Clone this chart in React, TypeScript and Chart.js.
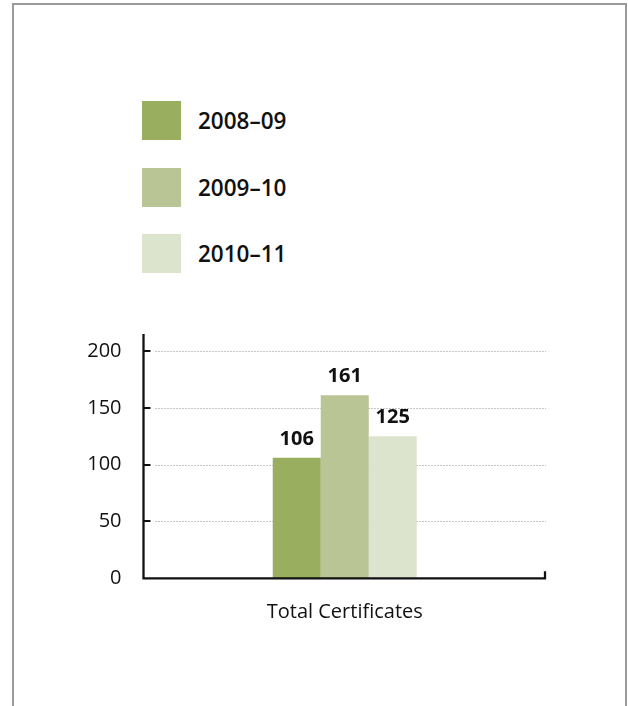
import React, { useEffect, useRef } from "react";
import { Chart, registerables } from "chart.js";

Chart.register(...registerables);

const categories = ["Total Certificates"];
const seriesLabels = ["2008–09", "2009–10", "2010–11"];
const values200809 = [106];
const values200910 = [161];
const values201011 = [125];
const seriesColors = ["#9AAE60", "#B9C595", "#DDE4CD"];
const yTickValues = [0, 50, 100, 150, 200];

const FONT = "'Open Sans', 'DejaVu Sans', sans-serif";

const drawPlugin = {
  id: "customAxes",
  beforeDatasetsDraw(chart: any) {
    const { ctx, chartArea, scales } = chart;
    const y = scales.y;
    ctx.save();
    ctx.strokeStyle = "#8c8c8c";
    ctx.lineWidth = 1;
    ctx.setLineDash([1, 2]);
    y.ticks.forEach((t: any) => {
      if (t.value === 0) return;
      const py = Math.round(y.getPixelForValue(t.value)) + 0.5;
      ctx.beginPath();
      ctx.moveTo(chartArea.left + 12, py);
      ctx.lineTo(chartArea.right, py);
      ctx.stroke();
    });
    ctx.restore();
  },
  afterDatasetsDraw(chart: any) {
    const { ctx, chartArea, scales } = chart;
    const y = scales.y;
    const { left, right, top, bottom } = chartArea;
    ctx.save();
    ctx.strokeStyle = "#111";
    ctx.lineWidth = 2.3;
    ctx.setLineDash([]);
    ctx.beginPath();
    ctx.moveTo(left, top);
    ctx.lineTo(left, bottom + 1);
    ctx.moveTo(left - 1, bottom);
    ctx.lineTo(right, bottom);
    ctx.moveTo(right - 1, bottom + 1);
    ctx.lineTo(right - 1, bottom - 7);
    ctx.stroke();
    ctx.lineWidth = 2;
    y.ticks.forEach((t: any) => {
      if (t.value === 0) return;
      const py = Math.round(y.getPixelForValue(t.value));
      ctx.beginPath();
      ctx.moveTo(left, py);
      ctx.lineTo(left + 7, py);
      ctx.stroke();
    });
    // value labels
    ctx.fillStyle = "#111";
    ctx.font = `bold 20px ${FONT}`;
    ctx.textAlign = "center";
    ctx.textBaseline = "alphabetic";
    chart.data.datasets.forEach((ds: any, i: number) => {
      const meta = chart.getDatasetMeta(i);
      meta.data.forEach((bar: any, j: number) => {
        ctx.fillText(String(ds.data[j]), bar.x, bar.y - 13);
      });
    });
    ctx.restore();
  },
};

export default function App() {
  const canvasRef = useRef<HTMLCanvasElement | null>(null);

  useEffect(() => {
    if (!canvasRef.current) return;
    const seriesValues = [values200809, values200910, values201011];
    const chart = new Chart(canvasRef.current, {
      type: "bar",
      data: {
        labels: categories,
        datasets: seriesLabels.map((label, i) => ({
          label,
          data: seriesValues[i],
          backgroundColor: seriesColors[i],
          borderWidth: 0,
          categoryPercentage: 0.3578,
          barPercentage: 1,
        })),
      },
      options: {
        animation: false,
        responsive: false,
        maintainAspectRatio: false,
        layout: { padding: { top: 34, right: 82, bottom: 0, left: 0 } },
        plugins: {
          legend: { display: false },
          tooltip: { enabled: false },
        },
        scales: {
          x: {
            grid: { display: false, drawTicks: false },
            border: { display: false },
            ticks: {
              color: "#111",
              font: { family: FONT, size: 20 },
              padding: 22,
            },
            afterFit: (scale: any) => {
              scale.height = 127.7;
            },
          },
          y: {
            min: 0,
            max: 215,
            grid: { display: false, drawTicks: false },
            border: { display: false },
            afterBuildTicks: (axis: any) => {
              axis.ticks = yTickValues.map((v) => ({ value: v }));
            },
            ticks: {
              color: "#111",
              font: { family: FONT, size: 20 },
              padding: 22,
            },
            afterFit: (scale: any) => {
              scale.width = 143.5;
            },
          },
        },
      },
      plugins: [drawPlugin],
    });
    return () => chart.destroy();
  }, []);

  return (
    <div
      style={{
        position: "fixed",
        left: 0,
        top: 0,
        width: 628,
        height: 706,
        overflow: "hidden",
        background: "#fff",
        fontFamily: FONT,
      }}
    >
      <div
        style={{
          position: "absolute",
          left: 12,
          top: 3,
          width: 611,
          height: 800,
          border: "2px solid #9a9a9a",
          borderBottom: "none",
        }}
      />
      {seriesLabels.map((label, i) => (
        <div
          key={label}
          style={{
            position: "absolute",
            left: 142,
            top: 101 + i * 66.5,
            height: 39,
            display: "flex",
            alignItems: "center",
          }}
        >
          <div style={{ width: 39, height: 39, background: seriesColors[i] }} />
          <div
            style={{
              marginLeft: 17,
              fontSize: 22.5,
              fontWeight: 600,
              color: "#111",
              whiteSpace: "nowrap",
              lineHeight: "39px",
            }}
          >
            {label}
          </div>
        </div>
      ))}
      <canvas
        ref={canvasRef}
        width={628}
        height={406}
        style={{ position: "absolute", left: 0, top: 300, width: 628, height: 406 }}
      />
    </div>
  );
}
